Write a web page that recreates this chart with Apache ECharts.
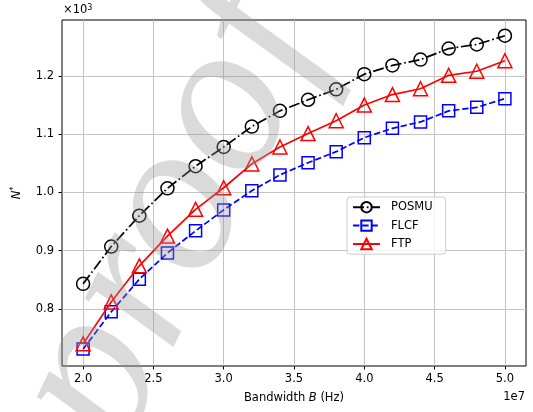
<!DOCTYPE html>
<html>
<head>
<meta charset="utf-8">
<script src="https://cdn.jsdelivr.net/npm/echarts@6/dist/echarts.min.js"></script>
<style>
html,body{margin:0;padding:0;background:#fff;}
#chart{width:533px;height:412px;}
</style>
</head>
<body>
<div id="chart"></div>
<script>
// Data
const bandwidth = [2.0e7, 2.2e7, 2.4e7, 2.6e7, 2.8e7, 3.0e7, 3.2e7, 3.4e7, 3.6e7, 3.8e7, 4.0e7, 4.2e7, 4.4e7, 4.6e7, 4.8e7, 5.0e7];
const posmu = [843, 907, 960, 1007, 1045, 1078, 1113, 1140, 1159, 1177, 1203, 1218, 1228, 1247, 1254, 1269];
const flcf  = [731, 795, 851, 896, 934, 970, 1003, 1030, 1051, 1070, 1094, 1110, 1121, 1140, 1146, 1161];
const ftp   = [740, 812, 874, 925, 971, 1008, 1049, 1078, 1101, 1123, 1150, 1168, 1178, 1201, 1208, 1226];
const seriesNames = ['POSMU', 'FLCF', 'FTP'];
const xTicks = [2.0e7, 2.5e7, 3.0e7, 3.5e7, 4.0e7, 4.5e7, 5.0e7];
const yTicks = [800, 900, 1000, 1100, 1200];

const FONT = '"DejaVu Sans", sans-serif';
const chart = echarts.init(document.getElementById('chart'), null, {renderer: 'canvas'});

function pairs(ys) { return bandwidth.map((x, i) => [x, ys[i]]); }

const option = {
  animation: false,
  backgroundColor: '#fff',
  textStyle: {fontFamily: FONT},
  grid: {left: 62, right: 7, top: 20, bottom: 46, show: true, borderColor: '#000', borderWidth: 1, backgroundColor: 'transparent'},
  xAxis: {
    type: 'value', min: 1.85e7, max: 5.15e7,
    axisLine: {show: false},
    axisTick: {show: true, length: 3.5, lineStyle: {color: '#000', width: 1}, customValues: xTicks},
    axisLabel: {customValues: xTicks, formatter: v => (v / 1e7).toFixed(1), color: '#000', fontSize: 11.5, fontFamily: FONT, margin: 7},
    splitLine: {show: true, lineStyle: {color: '#c4c4c4', width: 1}},
    name: '{n|Bandwidth }{i|B}{n| (Hz)}', nameLocation: 'middle', nameGap: 26,
    nameTextStyle: {rich: {n: {fontSize: 11.5, fontFamily: FONT, color: '#000'}, i: {fontSize: 11.5, fontFamily: FONT, fontStyle: 'italic', color: '#000'}}}
  },
  yAxis: {
    type: 'value', min: 702, max: 1296,
    axisLine: {show: false},
    axisTick: {show: true, length: 3.5, lineStyle: {color: '#000', width: 1}, customValues: yTicks},
    axisLabel: {customValues: yTicks, formatter: v => (v / 1000).toFixed(1), color: '#000', fontSize: 11.5, fontFamily: FONT, margin: 8},
    splitLine: {show: true, lineStyle: {color: '#c4c4c4', width: 1}},
    name: '{i|N}{s|*}', nameLocation: 'middle', nameRotate: 90, nameGap: 38,
    nameTextStyle: {rich: {i: {fontSize: 11.5, fontFamily: FONT, fontStyle: 'italic', color: '#000'}, s: {fontSize: 8, fontFamily: FONT, color: '#000', verticalAlign: 'top', padding: [0, 0, 6, 0]}}}
  },
  legend: {
    orient: 'vertical', left: 347, top: 197,
    itemWidth: 27, itemHeight: 13, itemGap: 6,
    padding: [4, 13, 4, 5],
    backgroundColor: 'rgba(255,255,255,0.8)', borderColor: '#cccccc', borderWidth: 1, borderRadius: 3,
    textStyle: {fontSize: 11.5, fontFamily: FONT, color: '#000', padding: [0, 0, 0, 6]},
    data: seriesNames
  },
  series: [
    {
      name: seriesNames[0], type: 'line', data: pairs(posmu),
      symbol: 'circle', symbolSize: 13,
      lineStyle: {color: '#000', width: 1.7, type: [11, 2.8, 1.7, 2.8]},
      itemStyle: {color: 'rgba(0,0,0,0)', borderColor: '#000', borderWidth: 1.5},
      z: 2
    },
    {
      name: seriesNames[1], type: 'line', data: pairs(flcf),
      symbol: 'rect', symbolSize: 12,
      lineStyle: {color: '#0000ff', width: 1.7, type: [6.4, 2.8]},
      itemStyle: {color: 'rgba(0,0,0,0)', borderColor: '#0000ff', borderWidth: 1.5},
      z: 3
    },
    {
      name: seriesNames[2], type: 'line', data: pairs(ftp),
      symbol: 'triangle', symbolSize: 14,
      lineStyle: {color: '#ff0000', width: 1.7, type: 'solid'},
      itemStyle: {color: 'rgba(0,0,0,0)', borderColor: '#ff0000', borderWidth: 1.5},
      z: 4
    }
  ],
  graphic: [
    {type: 'text', left: 63, top: 4, style: {rich: {a: {fontSize: 11.5, fontFamily: FONT, fill: '#000'}, b: {fontSize: 8, fontFamily: FONT, fill: '#000', verticalAlign: 'top', padding: [0, 0, 4, 0]}}, text: '{a|×10}{b|3}'}},
    {type: 'text', right: 8, top: 391, style: {text: '1e7', fontSize: 11.5, fontFamily: FONT, fill: '#000'}},
    {type: 'text', x: 172, y: 218, rotation: 64 * Math.PI / 180, z: 100, silent: true,
     style: {text: 'proof', font: 'italic 220px "Liberation Serif"', fill: 'rgba(150,150,150,0.35)', align: 'center', verticalAlign: 'middle'}}
  ]
};
chart.setOption(option);
</script>
</body>
</html>
